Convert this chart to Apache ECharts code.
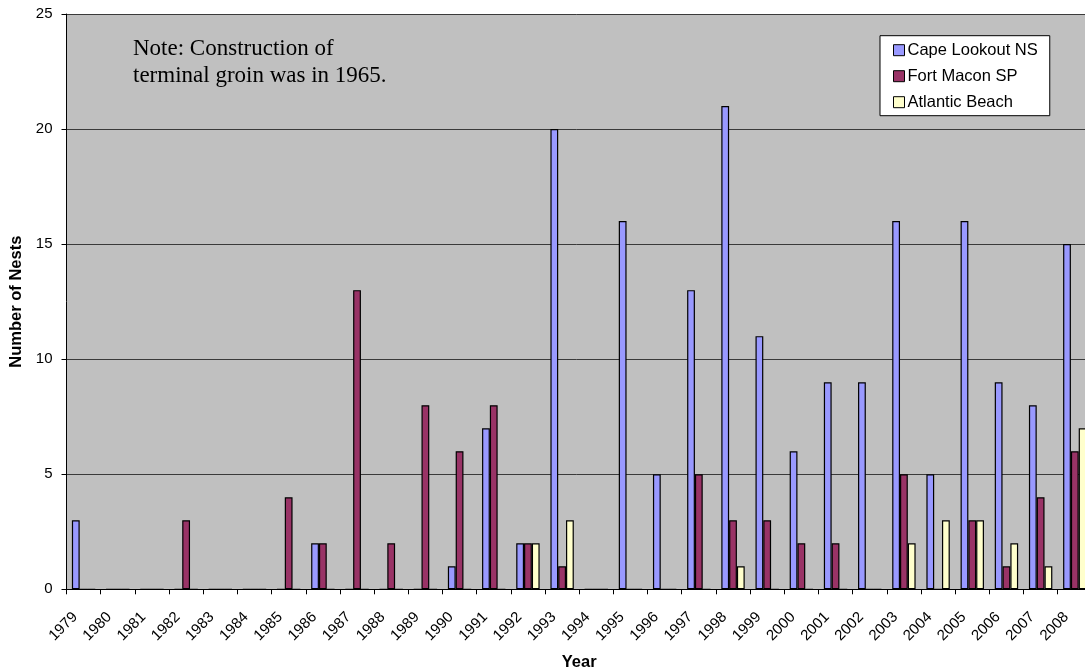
<!DOCTYPE html>
<html>
<head>
<meta charset="utf-8">
<script src="https://cdn.jsdelivr.net/npm/echarts@6/dist/echarts.min.js"></script>
<style>
html,body{margin:0;padding:0;background:#fff;}
#chart{width:1085px;height:670px;}
</style>
</head>
<body>
<div id="chart"></div>
<script>
var years = ['1979','1980','1981','1982','1983','1984','1985','1986','1987','1988','1989','1990','1991','1992','1993','1994','1995','1996','1997','1998','1999','2000','2001','2002','2003','2004','2005','2006','2007','2008'];
var capeLookout = [3,0,0,0,0,0,0,2,0,0,0,1,7,2,20,0,16,5,13,21,11,6,9,9,16,5,16,9,8,15];
var fortMacon = [0,0,0,3,0,0,4,2,13,2,8,6,8,2,1,0,0,0,5,3,3,2,2,0,5,0,3,1,4,6];
var atlanticBeach = [0,0,0,0,0,0,0,0,0,0,0,0,0,2,3,0,0,0,0,1,0,0,0,0,2,3,3,2,1,7];
var yTicks = {min: 0, max: 25, interval: 5};
var seriesNames = ['Cape Lookout NS', 'Fort Macon SP', 'Atlantic Beach'];
var noteText = 'Note: Construction of\nterminal groin was in 1965.';

var FONT = '"Liberation Sans", Arial, sans-serif';
var chart = echarts.init(document.getElementById('chart'), null, {renderer: 'canvas'});

function barSeries(name, data, color) {
  return {
    name: name,
    type: 'bar',
    data: data,
    barWidth: 7.8,
    barGap: '0%',
    itemStyle: {color: color, borderColor: '#000', borderWidth: 1.2},
    emphasis: {disabled: true},
    animation: false
  };
}

chart.setOption({
  animation: false,
  backgroundColor: '#ffffff',
  textStyle: {fontFamily: FONT},
  grid: {
    left: 66.5, top: 14, width: 1025.4, height: 575.3,
    show: true, backgroundColor: '#C0C0C0', borderWidth: 0,
    containLabel: false,
    outerBoundsMode: 'none'
  },
  legend: {
    orient: 'vertical',
    left: 880, top: 35.7,
    padding: [6, 12, 5, 13],
    itemGap: 9,
    itemWidth: 11, itemHeight: 11,
    icon: 'rect',
    backgroundColor: '#ffffff',
    borderColor: '#000000', borderWidth: 1,
    itemStyle: {borderColor: '#000', borderWidth: 1},
    textStyle: {fontFamily: FONT, fontSize: 16.5, color: '#000', padding: [0,0,0,-2]},
    data: seriesNames,
    selectedMode: false
  },
  xAxis: {
    type: 'category',
    data: years,
    boundaryGap: true,
    name: 'Year',
    nameLocation: 'middle',
    nameGap: 65,
    nameTextStyle: {fontFamily: FONT, fontSize: 16.5, fontWeight: 'bold', color: '#000'},
    axisLine: {show: true, lineStyle: {color: '#000', width: 1}},
    axisTick: {show: true, length: 5, interval: 0, lineStyle: {color: '#000'}},
    axisLabel: {
      interval: 0, rotate: 45, margin: 17,
      fontFamily: FONT, fontSize: 15, color: '#000',
      padding: [0, 12, 0, 0]
    },
    splitLine: {show: false}
  },
  yAxis: {
    type: 'value',
    min: yTicks.min, max: yTicks.max, interval: yTicks.interval,
    name: 'Number of Nests',
    nameLocation: 'middle',
    nameGap: 40,
    nameTextStyle: {fontFamily: FONT, fontSize: 16.5, fontWeight: 'bold', color: '#000'},
    axisLine: {show: true, lineStyle: {color: '#000', width: 1}},
    axisTick: {show: true, length: 5, lineStyle: {color: '#000'}},
    axisLabel: {margin: 14, fontFamily: FONT, fontSize: 15, color: '#000'},
    splitLine: {show: true, lineStyle: {color: '#3a3a3a', width: 1}}
  },
  graphic: [{
    type: 'text',
    left: 133, top: 35.5,
    z: 10,
    style: {
      text: noteText,
      font: '23px "Liberation Serif", "Times New Roman", serif',
      lineHeight: 26.7,
      fill: '#000'
    }
  }],
  series: [
    barSeries(seriesNames[0], capeLookout, '#9999FF'),
    barSeries(seriesNames[1], fortMacon, '#993366'),
    barSeries(seriesNames[2], atlanticBeach, '#FFFFCC')
  ]
});
</script>
</body>
</html>
